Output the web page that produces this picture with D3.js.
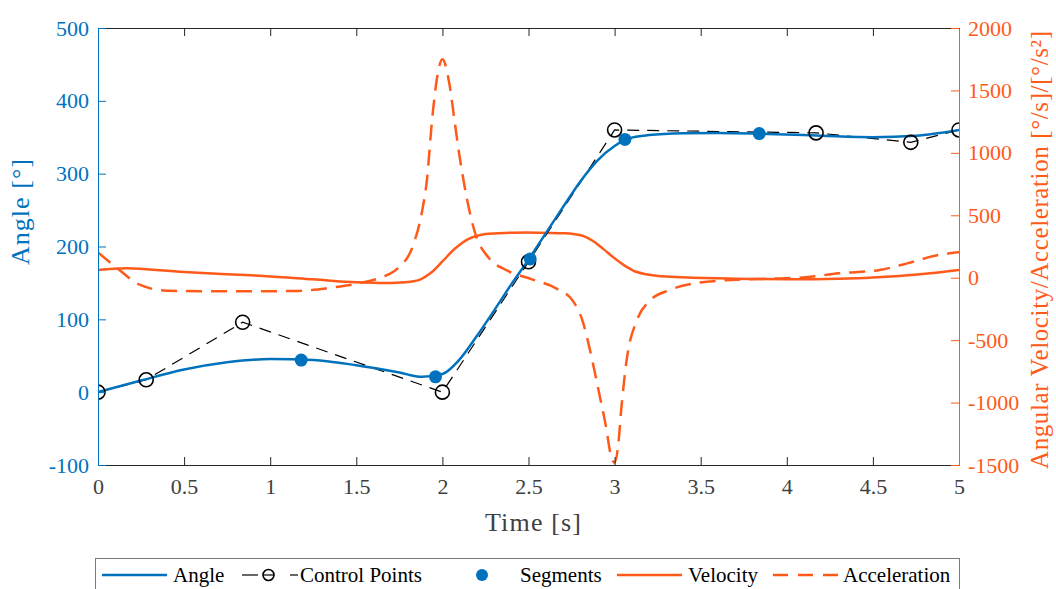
<!DOCTYPE html>
<html>
<head>
<meta charset="utf-8">
<script src="https://cdnjs.cloudflare.com/ajax/libs/d3/7.8.5/d3.min.js"></script>
<style>
  body { margin: 0; background: #fff; }
  svg text { font-family: 'Liberation Serif', 'DejaVu Serif', serif; }
</style>
</head>
<body>
<div id="chart"></div>
<script>
// tick labels
const timeTicks = [0, 0.5, 1, 1.5, 2, 2.5, 3, 3.5, 4, 4.5, 5];
const angleTicks = [-100, 0, 100, 200, 300, 400, 500];
const rateTicks = [-1500, -1000, -500, 0, 500, 1000, 1500, 2000];

// angle curve [deg]
const angleT = [0, 0.25, 0.5, 0.75, 1.0, 1.25, 1.5, 1.75, 1.88, 2.0, 2.1, 2.2, 2.3, 2.4, 2.5, 2.6, 2.7, 2.8, 2.9, 3.0, 3.06, 3.1, 3.2, 3.4, 3.6, 3.84, 4.2, 4.5, 4.75, 5];
const angleVals = [0, 16, 31, 41, 45.5, 44, 37, 27, 21, 25, 45, 77, 112, 148, 182, 218, 254, 289, 318, 338, 346, 349.5, 353, 355.5, 356, 355, 352, 350, 352, 360];

// control points (dashed polygon)
const ctrlT = [0, 0.28, 0.84, 2.0, 2.5, 3.0, 4.17, 4.72, 5];
const ctrlVals = [0, 17, 96, 0, 179, 360, 356, 343, 360];

// segment points
const segT = [1.18, 1.96, 2.51, 3.06, 3.84];
const segVals = [44, 21, 183, 347, 355];

// angular velocity [deg/s]
const velT = [0, 0.17, 0.5, 0.96, 1.25, 1.5, 1.7, 1.8, 1.87, 1.93, 2.0, 2.07, 2.15, 2.25, 2.4, 2.55, 2.7, 2.76, 2.82, 2.87, 2.93, 3.0, 3.06, 3.12, 3.2, 3.3, 3.45, 3.7, 4.0, 4.3, 4.5, 4.79, 5];
const velVals = [62, 75, 45, 14, -13, -36, -42, -35, -15, 35, 130, 230, 310, 350, 360, 361, 356, 350, 333, 298, 235, 155, 95, 50, 24, 9, 0, -8, -12, -8, 2, 30, 62];

// angular acceleration [deg/s^2]
const accT = [0, 0.11, 0.245, 0.4, 0.6, 1.0, 1.16, 1.35, 1.54, 1.65, 1.74, 1.83, 1.88, 1.91, 1.94, 1.97, 2.0, 2.04, 2.07, 2.1, 2.14, 2.19, 2.27, 2.37, 2.52, 2.66, 2.76, 2.81, 2.87, 2.91, 2.95, 2.98, 3.0, 3.02, 3.04, 3.07, 3.13, 3.2, 3.32, 3.49, 3.68, 3.9, 4.11, 4.3, 4.54, 4.7, 4.88, 5];
const accVals = [203, 78, -58, -104, -108, -108, -106, -80, -37, 5, 75, 260, 518, 782, 1263, 1610, 1750, 1557, 1263, 969, 649, 358, 158, 62, -13, -85, -190, -330, -659, -924, -1193, -1433, -1480, -1353, -1033, -659, -339, -190, -98, -40, -18, -8, 3, 35, 62, 115, 182, 203];

const legendLabels = ['Angle', 'Control Points', 'Segments', 'Velocity', 'Acceleration'];

const blue = '#0072BD';
const orange = '#FF5A1A';
const dark = '#262626';

const W = 1056, H = 589;
const mLeft = 98, mRight = 959, mTop = 28, mBottom = 465;

const svg = d3.select('#chart').append('svg')
  .attr('width', W)
  .attr('height', H);

svg.append('clipPath')
  .attr('id', 'plot-clip')
  .append('rect')
  .attr('x', mLeft).attr('y', mTop)
  .attr('width', mRight - mLeft).attr('height', mBottom - mTop);

const x = d3.scaleLinear().domain([0, 5]).range([mLeft, mRight]);
const yA = d3.scaleLinear().domain([-100, 500]).range([mBottom, mTop]);
const yR = d3.scaleLinear().domain([-1500, 2000]).range([mBottom, mTop]);

const zip = (ts, vs) => ts.map((t, i) => [t, vs[i]]);

const plot = svg.append('g').attr('clip-path', 'url(#plot-clip)');

// orange curves (right axis)
const lineR = d3.line()
  .x(d => x(d[0]))
  .y(d => yR(d[1]));

plot.append('path')
  .attr('d', lineR.curve(d3.curveCatmullRom.alpha(0.5))(zip(velT, velVals)))
  .attr('fill', 'none')
  .attr('stroke', orange)
  .attr('stroke-width', 2.5);

plot.append('path')
  .attr('d', lineR.curve(d3.curveMonotoneX)(zip(accT, accVals)))
  .attr('fill', 'none')
  .attr('stroke', orange)
  .attr('stroke-width', 2.5)
  .attr('stroke-dasharray', '16,9');

// control polygon
const lineA = d3.line()
  .x(d => x(d[0]))
  .y(d => yA(d[1]));

plot.append('path')
  .attr('d', lineA(zip(ctrlT, ctrlVals)))
  .attr('fill', 'none')
  .attr('stroke', '#000')
  .attr('stroke-width', 1.2)
  .attr('stroke-dasharray', '12,8');

// angle
plot.append('path')
  .attr('d', lineA.curve(d3.curveMonotoneX)(zip(angleT, angleVals)))
  .attr('fill', 'none')
  .attr('stroke', blue)
  .attr('stroke-width', 2.5);

plot.selectAll('.ctrl')
  .data(zip(ctrlT, ctrlVals))
  .enter()
  .append('circle')
  .attr('class', 'ctrl')
  .attr('cx', d => x(d[0]))
  .attr('cy', d => yA(d[1]))
  .attr('r', 7)
  .attr('fill', 'none')
  .attr('stroke', '#000')
  .attr('stroke-width', 1.6);

plot.selectAll('.seg')
  .data(zip(segT, segVals))
  .enter()
  .append('circle')
  .attr('class', 'seg')
  .attr('cx', d => x(d[0]))
  .attr('cy', d => yA(d[1]))
  .attr('r', 6.5)
  .attr('fill', blue);

// axes, ticks pointing inward
const fmt = d => String(d);

const gx = svg.append('g')
  .attr('transform', `translate(0,${mBottom})`)
  .call(d3.axisBottom(x).tickValues(timeTicks).tickFormat(fmt).tickSizeInner(-8).tickSizeOuter(0).tickPadding(13));
const gt = svg.append('g')
  .attr('transform', `translate(0,${mTop})`)
  .call(d3.axisTop(x).tickValues(timeTicks).tickFormat('').tickSizeInner(-8).tickSizeOuter(0));
[gx, gt].forEach(g => {
  g.selectAll('path, line').attr('stroke', dark).attr('stroke-width', 1);
  g.selectAll('text').attr('fill', '#404040').style('font-size', '22px');
});

const gl = svg.append('g')
  .attr('transform', `translate(${mLeft},0)`)
  .call(d3.axisLeft(yA).tickValues(angleTicks).tickFormat(fmt).tickSizeInner(-8).tickSizeOuter(0).tickPadding(9));
gl.selectAll('path, line').attr('stroke', blue).attr('stroke-width', 1);
gl.selectAll('text').attr('fill', blue).style('font-size', '22px');

const gr = svg.append('g')
  .attr('transform', `translate(${mRight},0)`)
  .call(d3.axisRight(yR).tickValues(rateTicks).tickFormat(fmt).tickSizeInner(-8).tickSizeOuter(0).tickPadding(9));
gr.selectAll('path, line').attr('stroke', orange).attr('stroke-width', 1);
gr.selectAll('text').attr('fill', orange).style('font-size', '22px');

// axis labels
svg.append('text')
  .attr('x', 533)
  .attr('y', 531)
  .attr('text-anchor', 'middle')
  .attr('fill', '#404040')
  .style('font-size', '26px')
  .attr('textLength', 96)
  .text('Time [s]');

svg.append('text')
  .attr('transform', 'translate(29,212) rotate(-90)')
  .attr('text-anchor', 'middle')
  .attr('fill', blue)
  .style('font-size', '26px')
  .attr('textLength', 106)
  .text('Angle [°]');

svg.append('text')
  .attr('transform', 'translate(1048,250) rotate(-90)')
  .attr('text-anchor', 'middle')
  .attr('fill', orange)
  .style('font-size', '25px')
  .attr('textLength', 438)
  .text('Angular Velocity/Acceleration [°/s]/[°/s²]');

// legend
const leg = svg.append('g');
leg.append('rect')
  .attr('x', 95.5).attr('y', 558.5)
  .attr('width', 864).attr('height', 40)
  .attr('fill', '#fff')
  .attr('stroke', '#7a7a7a');

const ly = 575;
leg.append('line').attr('x1', 102).attr('x2', 167).attr('y1', ly).attr('y2', ly)
  .attr('stroke', blue).attr('stroke-width', 2.5);
// dashed control-point sample: dash, circle, dash
[[242, 258], [263, 274], [290, 298]].forEach(s => {
  leg.append('line').attr('x1', s[0]).attr('x2', s[1]).attr('y1', ly).attr('y2', ly)
    .attr('stroke', '#000').attr('stroke-width', 1.2);
});
leg.append('circle').attr('cx', 268.5).attr('cy', ly).attr('r', 5.5)
  .attr('fill', 'none').attr('stroke', '#000').attr('stroke-width', 1.6);
leg.append('circle').attr('cx', 482).attr('cy', ly).attr('r', 6)
  .attr('fill', blue);
leg.append('line').attr('x1', 617).attr('x2', 682).attr('y1', ly).attr('y2', ly)
  .attr('stroke', orange).attr('stroke-width', 2.5);
leg.append('line').attr('x1', 773).attr('x2', 838).attr('y1', ly).attr('y2', ly)
  .attr('stroke', orange).attr('stroke-width', 2.5).attr('stroke-dasharray', '15,10');

const legX = [173, 300, 520, 688, 843];
leg.selectAll('.lt')
  .data(legendLabels)
  .enter()
  .append('text')
  .attr('class', 'lt')
  .attr('x', (d, i) => legX[i])
  .attr('y', ly + 7)
  .attr('fill', '#000')
  .style('font-size', '21px')
  .text(d => d);
</script>
</body>
</html>
